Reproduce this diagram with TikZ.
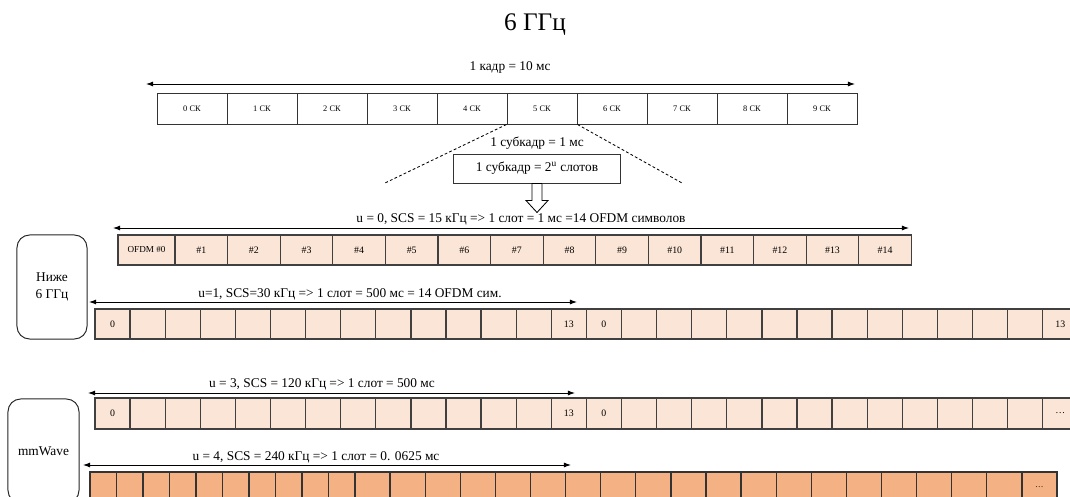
\documentclass[tikz,border=0pt]{standalone}
\usepackage{fontspec}
\setmainfont{Liberation Serif}
\usepackage{tikz}
\usetikzlibrary{arrows.meta, positioning, calc}
\definecolor{peach}{HTML}{FBE5D6}
\definecolor{apricot}{HTML}{F4B183}
\tikzset{
    cell/.style={draw=black!80, line width=0.7pt, minimum height=0.75cm, inner sep=0pt, font=\fontsize{6}{7}\selectfont},
    symcell/.style={cell, draw=black!75, line width=0.9pt, fill=peach, font=\fontsize{7}{8}\selectfont},
    minicell/.style={cell, draw=black!80, line width=0.9pt, fill=apricot, font=\fontsize{7}{8}\selectfont},
    band/.style={draw=black!85, line width=0.7pt, rounded corners=9pt, fill=white, minimum width=1.75cm, minimum height=2.6cm, align=center, font=\fontsize{9.5}{12}\selectfont},
    span/.style={{Latex[length=5pt,width=3.5pt]}-{Latex[length=5pt,width=3.5pt]}, line width=0.6pt},
    caption/.style={font=\fontsize{9.5}{11}\selectfont, inner sep=0pt}
}
\begin{document}
\begin{tikzpicture}[x=0.025cm, y=-0.025cm]
        \useasboundingbox (0,0) rectangle (1070,497);
        \node[font=\fontsize{18}{20}\selectfont] (title) at (535,25) {6 ГГц};

        % frame of ten subframes
        \foreach \i in {0,...,9} {
            \node[cell, minimum width=1.75cm] (sf\i) at ({192+70*\i},109) {\i\ СК};
        }
        \coordinate (fL) at (146,84);
        \coordinate (fR) at (855,84);
        \draw[span] (fL) -- (fR);
        \node[caption] (frame) at (510,67) {1 кадр = 10 мс};

        % subframe
        \node[cell, minimum width=4.15cm, minimum height=0.725cm, font=\fontsize{9.5}{11}\selectfont] (sub) at (537,168.5) {1 субкадр = 2\textsuperscript{u} слотов};
        \node[caption] (subms) at (537,143) {1 субкадр = 1 мс};
        \coordinate (dL) at (385,183);
        \coordinate (dR) at (682,183);
        \draw[dash pattern=on 2pt off 1.6pt, line width=0.6pt] (sf5.south west) -- (dL);
        \draw[dash pattern=on 2pt off 1.6pt, line width=0.6pt] (sf5.south east) -- (dR);
        \draw[line width=0.6pt, fill=white] (sub.south) ++(-5,0) -- ++(10,0) -- ++(0,17) -- ++(6,0) -- ++(-11,12) -- ++(-11,-12) -- ++(6,0) -- cycle;

        % u = 0
        \coordinate (u0L) at (113,228);
        \coordinate (u0R) at (909,228);
        \draw[span] (u0L) -- (u0R);
        \node[caption] (u0) at (521,219) {u = 0, SCS = 15 кГц => 1 слот = 1 мс =14 OFDM символов};
        \node[symcell, minimum width=1.425cm, font=\fontsize{6.5}{7}\selectfont] (o0) at (146.5,250) {OFDM \#0};
        \foreach \i in {1,...,14} {
            \node[symcell, minimum width=1.315cm] (o\i) at ({175+52.6*(\i-0.5)},250) {\#\i};
        }

        % below 6 GHz
        \node[band] (sub6) at (52,287) {Ниже\\6 ГГц};

        % u = 1
        \coordinate (u1L) at (89,302);
        \coordinate (u1R) at (577,302);
        \draw[span] (u1L) -- (u1R);
        \node[caption] (u1) at (350,294) {u=1, SCS=30 кГц => 1 слот = 500 мс = 14 OFDM сим.};
        \foreach \i in {0,...,27} {
            \node[symcell, minimum width=0.8775cm] (a\i) at ({95+35.1*\i+17.55},324) {};
        }
        \foreach \i/\t in {0/0, 13/13, 14/0, 27/13} {
            \node[font=\fontsize{7}{8}\selectfont] (a\i n) at (a\i) {\t};
        }

        % mmWave
        \node[band, minimum width=1.775cm] (mmw) at (43.5,451) {mmWave};

        % u = 3
        \coordinate (u3L) at (88,393);
        \coordinate (u3R) at (575,393);
        \draw[span] (u3L) -- (u3R);
        \node[caption] (u3) at (322,384) {u = 3, SCS = 120 кГц => 1 слот = 500 мс};
        \foreach \i in {0,...,27} {
            \node[symcell, minimum width=0.8775cm, minimum height=0.775cm] (b\i) at ({95+35.1*\i+17.55},413.5) {};
        }
        \foreach \i/\t in {0/0, 13/13, 14/0, 27/\ldots} {
            \node[font=\fontsize{7}{8}\selectfont] (b\i n) at (b\i) {\t};
        }

        % u = 4
        \coordinate (u4L) at (83,465);
        \coordinate (u4R) at (571,465);
        \draw[span] (u4L) -- (u4R);
        \node[caption] (u4) at (316,457) {u = 4, SCS = 240 кГц => 1 слот = 0. 0625 мс};
        \foreach \i in {0,...,9} {
            \node[minicell, minimum width=0.6625cm] (c\i) at ({90+26.5*\i+13.25},487) {};
        }
        \foreach \i in {10,...,29} {
            \node[minicell, minimum width=0.8775cm] (c\i) at ({355+35.1*(\i-10)+17.55},487) {};
        }
        \node[font=\fontsize{6}{7}\selectfont] (c29n) at (c29) {\ldots};
\end{tikzpicture}
\end{document}
